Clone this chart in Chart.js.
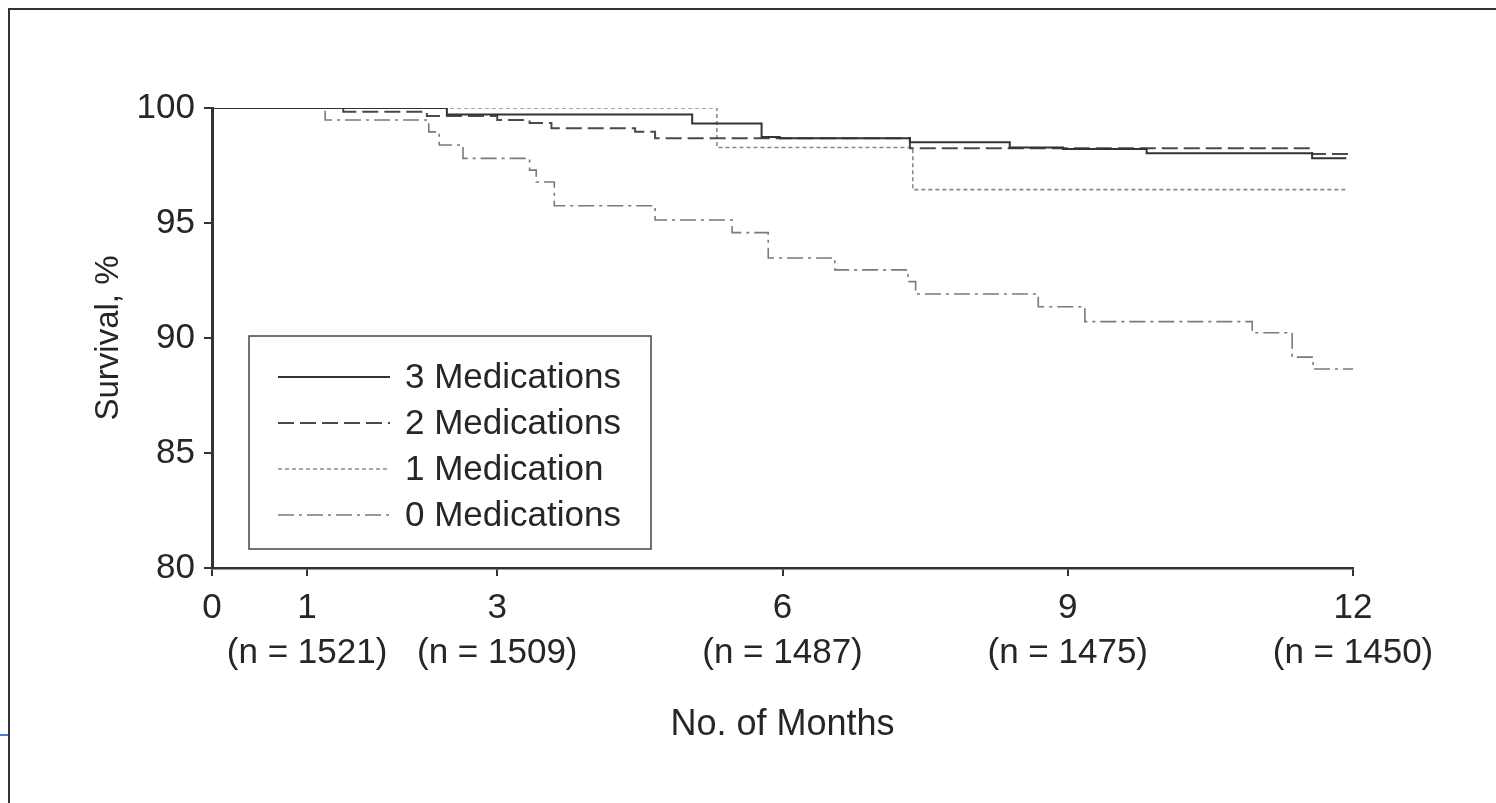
<!DOCTYPE html>
<html>
<head>
<meta charset="utf-8">
<script src="https://cdn.jsdelivr.net/npm/chart.js@4"></script>
<style>
  html, body { margin: 0; padding: 0; background: #fff; }
  #wrap { position: relative; width: 1496px; height: 803px; overflow: hidden; }
  #c { position: absolute; left: 0; top: 0; }
  #frame { position: absolute; left: 8px; top: 8px; right: 0; bottom: 0;
           border-top: 2px solid #333; border-left: 2px solid #333; pointer-events: none; }
  #mark { position: absolute; left: 0; top: 734px; width: 8px; height: 2px; background: #3d7fd4; }
</style>
</head>
<body>
<div id="wrap">
  <canvas id="c" width="1496" height="803"></canvas>
  <div id="frame"></div>
  <div id="mark"></div>
</div>
<script>
// ---- data ----
const seriesLabels = ['3 Medications', '2 Medications', '1 Medication', '0 Medications'];

const t3 = [0, 2.47, 5.05, 5.78, 5.97, 7.34, 8.39, 8.95, 9.83, 11.57, 11.93];
const v3 = [100, 99.72, 99.33, 98.74, 98.68, 98.51, 98.28, 98.22, 98.03, 97.81, 97.81];

const t2 = [0, 1.38, 2.26, 3.0, 3.34, 3.57, 4.45, 4.66, 7.34, 11.57, 12.0];
const v2 = [100, 99.84, 99.65, 99.48, 99.35, 99.12, 98.97, 98.68, 98.25, 98.0, 98.0];

const t1 = [0, 5.31, 7.37, 11.93];
const v1 = [100, 98.28, 96.45, 96.45];

const t0 = [0, 1.19, 2.28, 2.39, 2.64, 3.34, 3.41, 3.60, 4.66, 5.47, 5.85, 6.55, 7.32, 7.40, 8.69, 9.18, 10.94, 11.36, 11.58, 12.0];
const v0 = [100, 99.48, 98.96, 98.39, 97.81, 97.30, 96.78, 95.75, 95.13, 94.58, 93.48, 92.96, 92.45, 91.91, 91.36, 90.71, 90.23, 89.17, 88.65, 88.65];

const xTickValues = [0, 1, 3, 6, 9, 12];
const xTickNumbers = ['0', '1', '3', '6', '9', '12'];
const atRiskLabels = ['', '(n = 1521)', '(n = 1509)', '(n = 1487)', '(n = 1475)', '(n = 1450)'];

const xTitle = 'No. of Months';
const yTitle = 'Survival, %';

// ---- build ----
const pts = (t, v) => t.map((x, i) => ({ x: x, y: v[i] }));
const FONT = "'Liberation Sans', Arial, sans-serif";
const TXT = '#262626';

const styles = [
  { color: '#333333', width: 2,   dash: [] },
  { color: '#4a4a4a', width: 2,   dash: [16, 6] },
  { color: '#8a8a8a', width: 1.6, dash: [4, 3] },
  { color: '#7a7a7a', width: 1.6, dash: [16, 5, 3, 5] }
];
const allT = [t3, t2, t1, t0];
const allV = [v3, v2, v1, v0];

const datasets = seriesLabels.map((lab, i) => ({
  label: lab,
  data: pts(allT[i], allV[i]),
  borderColor: styles[i].color,
  borderWidth: styles[i].width,
  borderDash: styles[i].dash,
  stepped: true,
  pointRadius: 0,
  fill: false,
  tension: 0
}));

const legendBox = {
  id: 'legendBox',
  afterDatasetsDraw(chart) {
    const ctx = chart.ctx;
    const ca = chart.chartArea;
    const L = ca.left + 37, T = ca.top + 228, W = 402, H = 213;
    ctx.save();
    ctx.fillStyle = '#fff';
    ctx.fillRect(L, T, W, H);
    ctx.strokeStyle = '#444';
    ctx.lineWidth = 1.5;
    ctx.setLineDash([]);
    ctx.strokeRect(L, T, W, H);
    chart.data.datasets.forEach((ds, i) => {
      const y = T + 41 + i * 46;
      ctx.beginPath();
      ctx.setLineDash(ds.borderDash || []);
      ctx.strokeStyle = ds.borderColor;
      ctx.lineWidth = ds.borderWidth;
      ctx.moveTo(L + 29, y);
      ctx.lineTo(L + 141, y);
      ctx.stroke();
      ctx.setLineDash([]);
      ctx.fillStyle = TXT;
      ctx.font = '35px ' + FONT;
      ctx.textAlign = 'left';
      ctx.textBaseline = 'middle';
      ctx.fillText(ds.label, L + 156, y + 1);
    });
    ctx.restore();
  }
};

new Chart(document.getElementById('c'), {
  type: 'line',
  data: { datasets: datasets },
  options: {
    responsive: false,
    animation: false,
    devicePixelRatio: 1,
    layout: { padding: { left: 0, right: 143, top: 108, bottom: 0 } },
    plugins: { legend: { display: false }, tooltip: { enabled: false } },
    scales: {
      x: {
        type: 'linear',
        min: 0, max: 12,
        afterBuildTicks: (scale) => { scale.ticks = xTickValues.map(v => ({ value: v })); },
        afterFit: (scale) => { scale.height = 235; },
        ticks: {
          autoSkip: false,
          maxRotation: 0,
          padding: 9,
          color: TXT,
          font: { family: FONT, size: 35, lineHeight: 1.31 },
          callback: (value, index) => atRiskLabels[index] ? [xTickNumbers[index], atRiskLabels[index]] : xTickNumbers[index]
        },
        grid: { display: true, drawOnChartArea: false, drawTicks: true, tickLength: 8, color: '#333', lineWidth: 2 },
        border: { display: true, color: '#333', width: 2.5 },
        title: { display: true, text: xTitle, color: TXT, font: { family: FONT, size: 36 }, padding: { top: 0, bottom: 56 } }
      },
      y: {
        type: 'linear',
        min: 80, max: 100,
        afterFit: (scale) => { scale.width = 212; },
        ticks: { stepSize: 5, padding: 9, color: TXT, font: { family: FONT, size: 35 } },
        grid: { display: true, drawOnChartArea: false, drawTicks: true, tickLength: 8, color: '#333', lineWidth: 2 },
        border: { display: true, color: '#333', width: 3 },
        title: { display: true, text: yTitle, color: TXT, font: { family: FONT, size: 33 }, padding: { top: 89, bottom: 0 } }
      }
    }
  },
  plugins: [legendBox]
});
</script>
</body>
</html>
